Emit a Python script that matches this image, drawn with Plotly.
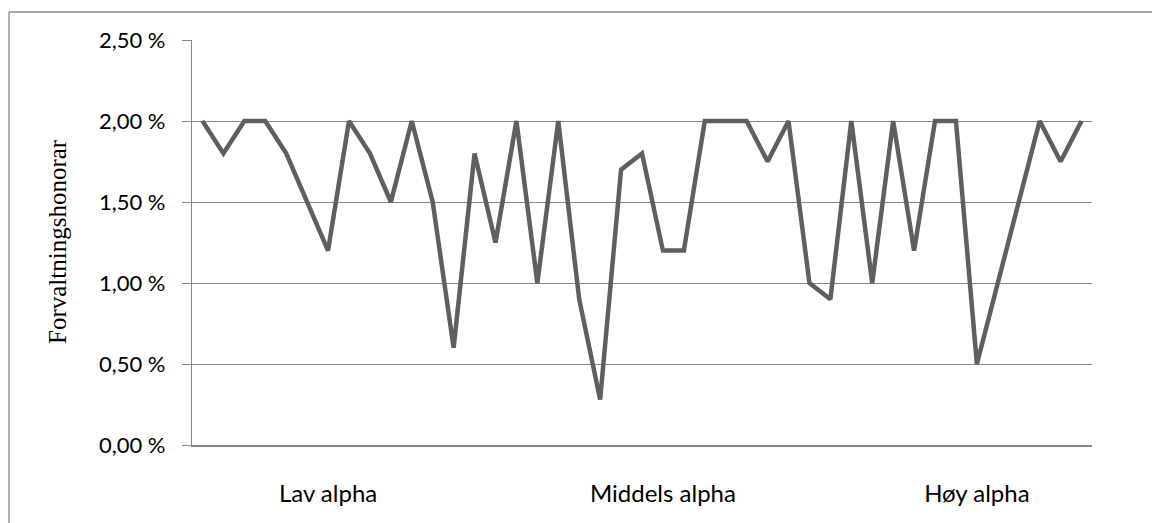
import plotly.graph_objects as go

# Management fee per fund, ordered from low to high alpha
fund_index = list(range(1, 44))
management_fee = [
    2.00, 1.80, 2.00, 2.00, 1.80, 1.50, 1.20, 2.00, 1.80, 1.50,
    2.00, 1.50, 0.60, 1.80, 1.25, 2.00, 1.00, 2.00, 0.90, 0.28,
    1.70, 1.80, 1.20, 1.20, 2.00, 2.00, 2.00, 1.75, 2.00, 1.00,
    0.90, 2.00, 1.00, 2.00, 1.20, 2.00, 2.00, 0.50, 1.00, 1.50,
    2.00, 1.75, 2.00,
]

group_positions = [7, 23, 38]
group_labels = ["Lav alpha", "Middels alpha", "Høy alpha"]

y_ticks = [0.0, 0.5, 1.0, 1.5, 2.0, 2.5]
y_tick_labels = ["0,00 %", "0,50 %", "1,00 %", "1,50 %", "2,00 %", "2,50 %"]

AXIS_GREY = "#878787"
LINE_GREY = "#5f5f5f"

fig = go.Figure()
fig.add_trace(go.Scatter(
    x=fund_index,
    y=management_fee,
    mode="lines",
    line=dict(color=LINE_GREY, width=4.5),
    showlegend=False,
    hoverinfo="skip",
))

# plot area margins in pixels, used for the frame and title placement
L, R, T, B = 192, 60, 40, 78
W, H = 1152, 523
pw, ph = W - L - R, H - T - B

def px_x(p):
    return (p - L) / pw

def px_y(p):
    return (H - B - p) / ph

fig.update_layout(
    width=W, height=H,
    margin=dict(l=L, r=R, t=T, b=B, autoexpand=False),
    paper_bgcolor="white",
    plot_bgcolor="white",
    font=dict(family="Lato", color="black"),
    xaxis=dict(
        range=[0.5, 43.5],
        tickvals=group_positions,
        ticktext=group_labels,
        ticks="",
        ticklabelstandoff=26,
        tickfont=dict(size=24, family="Lato", color="black"),
        showgrid=False,
        zeroline=False,
        showline=True,
        linecolor=AXIS_GREY,
        linewidth=2,
        fixedrange=True,
    ),
    yaxis=dict(
        range=[0, 2.5],
        tickvals=y_ticks,
        ticktext=y_tick_labels,
        ticks="outside",
        ticklen=9,
        tickcolor=AXIS_GREY,
        tickwidth=1.3,
        ticklabelstandoff=12,
        tickfont=dict(size=22, family="Lato", color="black"),
        showgrid=True,
        gridcolor=AXIS_GREY,
        gridwidth=1.3,
        zeroline=False,
        showline=True,
        linecolor=AXIS_GREY,
        linewidth=1.3,
        fixedrange=True,
    ),
    shapes=[
        # chart frame (left and top edges)
        dict(type="line", xref="paper", yref="paper",
             x0=px_x(9), x1=px_x(9), y0=px_y(12), y1=px_y(540),
             line=dict(color=AXIS_GREY, width=1.3)),
        dict(type="line", xref="paper", yref="paper",
             x0=px_x(9), x1=px_x(1170), y0=px_y(12), y1=px_y(12),
             line=dict(color=AXIS_GREY, width=1.3)),
    ],
    annotations=[
        dict(text="Forvaltningshonorar", xref="paper", yref="paper",
             x=px_x(57), y=px_y(242), textangle=-90, showarrow=False,
             xanchor="center", yanchor="middle",
             font=dict(family="Liberation Serif", size=25, color="black")),
    ],
)

fig.write_html("out.html")
